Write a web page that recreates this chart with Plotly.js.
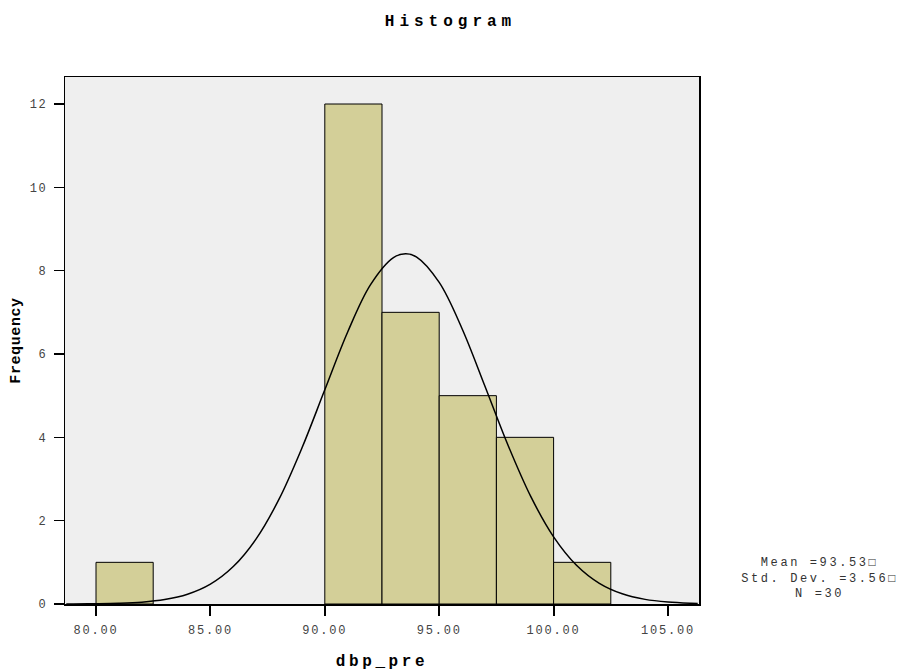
<!DOCTYPE html>
<html>
<head>
<meta charset="utf-8">
<script src="https://cdn.plot.ly/plotly-3.0.1.min.js"></script>
<style>
html,body{margin:0;padding:0;background:#fff;}
#chart{width:901px;height:672px;}
#chart .gtitle{letter-spacing:5px;}
#chart .xtitle{letter-spacing:3.6px;}
#chart .ytitle{letter-spacing:0.6px;}
#chart .xtick text{letter-spacing:1.8px;}
#chart .ytick text{letter-spacing:1.5px;}
#chart .annotation-text{letter-spacing:2.6px;}
</style>
</head>
<body>
<div id="chart"></div>
<script>
// Histogram bins (lower edge) and frequencies
const binStarts = [80.0, 82.5, 85.0, 87.5, 90.0, 92.5, 95.0, 97.5, 100.0];
const counts    = [1, 0, 0, 0, 12, 7, 5, 4, 1];
const binWidth = 2.5;

// Normal curve (Mean 93.53, SD 3.56, N 30)
const curveX = [78.7, 79, 80, 81, 82, 83, 84, 85, 86, 87, 88, 89, 90, 91, 92, 93, 93.53, 94, 95, 96, 97, 98, 99, 100, 101, 102, 103, 104, 105, 106, 106.3];
const curveY = [0.001, 0.002, 0.006, 0.017, 0.044, 0.106, 0.234, 0.476, 0.898, 1.563, 2.516, 3.743, 5.140, 6.529, 7.664, 8.313, 8.405, 8.332, 7.718, 6.607, 5.227, 3.821, 2.582, 1.612, 0.930, 0.496, 0.244, 0.111, 0.047, 0.018, 0.014];

const xTicks = [80, 85, 90, 95, 100, 105];
const xTickText = ["80.00", "85.00", "90.00", "95.00", "100.00", "105.00"];
const yTicks = [0, 2, 4, 6, 8, 10, 12];

const statsLines = ["Mean =93.53\u25A1", "Std. Dev. =3.56\u25A1", "N =30"];

const mono = "Liberation Mono, Courier New, monospace";

const barsX = [], barsY = [];
binStarts.forEach((b, i) => { if (counts[i] > 0) { barsX.push(b); barsY.push(counts[i]); } });

const traces = [
  {
    type: 'bar', x: barsX, y: barsY, width: binWidth, offset: 0,
    marker: {color: '#d3cf98', line: {color: '#000', width: 1}},
    hoverinfo: 'skip'
  },
  {
    type: 'scatter', mode: 'lines', x: curveX, y: curveY,
    line: {color: '#000', width: 1.5, shape: 'spline'},
    hoverinfo: 'skip'
  }
];

const layout = {
  width: 901, height: 672,
  margin: {l: 65, r: 202, t: 77, b: 68},
  paper_bgcolor: '#fff',
  plot_bgcolor: '#efefef',
  showlegend: false,
  bargap: 0,
  title: {text: '<b>Histogram</b>', font: {family: mono, size: 16, color: '#000'}, x: 0.5, xanchor: 'center', y: 0.97, yanchor: 'middle'},
  xaxis: {
    range: [78.645, 106.355], tickvals: xTicks, ticktext: xTickText,
    ticks: 'outside', ticklen: 10, tickwidth: 2, tickcolor: '#000',
    ticklabelstandoff: 4,
    showline: true, linecolor: '#000', linewidth: 1.5, mirror: true,
    showgrid: false, zeroline: false,
    tickfont: {family: mono, size: 12, color: '#444'},
    title: {text: '<b>dbp_pre</b>', font: {family: mono, size: 16, color: '#000'}, standoff: 18}
  },
  yaxis: {
    range: [0, 12.648], tickvals: yTicks,
    ticks: 'outside', ticklen: 10, tickwidth: 1.5, tickcolor: '#000',
    ticklabelstandoff: 4,
    showline: true, linecolor: '#000', linewidth: 1.5, mirror: true,
    showgrid: false, zeroline: false,
    tickfont: {family: mono, size: 12, color: '#444'},
    title: {text: '<b>Frequency</b>', font: {family: mono, size: 15, color: '#000'}, standoff: 8}
  },
  annotations: [{
    xref: 'paper', yref: 'paper', x: 1.19, y: 0.049, xanchor: 'center', yanchor: 'middle',
    text: statsLines.join('<br>'), showarrow: false, align: 'center',
    font: {family: mono, size: 12, color: '#333'}
  }]
};

Plotly.newPlot('chart', traces, layout, {displayModeBar: false, staticPlot: true});
</script>
</body>
</html>
